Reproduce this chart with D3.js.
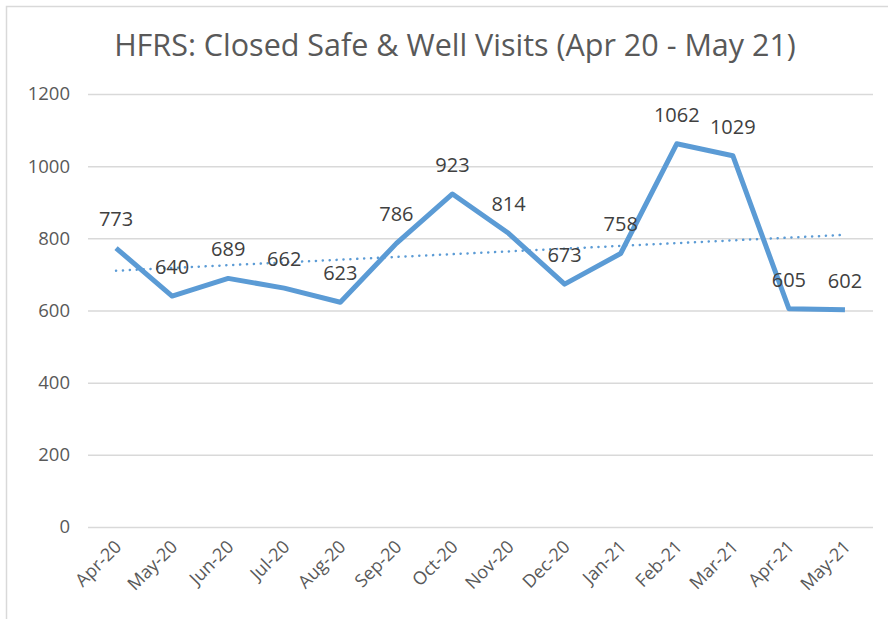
<!DOCTYPE html>
<html>
<head>
<meta charset="utf-8">
<script src="https://cdn.jsdelivr.net/npm/d3@7"></script>
<style>
  body { margin: 0; background: #fff; }
  svg, svg text { font-family: "Open Sans", sans-serif; }
  svg { display: block; }
</style>
</head>
<body>
<div id="chart"></div>
<script>
// chart data
var months = ["Apr-20", "May-20", "Jun-20", "Jul-20", "Aug-20", "Sep-20", "Oct-20",
    "Nov-20", "Dec-20", "Jan-21", "Feb-21", "Mar-21", "Apr-21", "May-21"];
var visits = [773, 640, 689, 662, 623, 786, 923, 814, 673, 758, 1062, 1029, 605, 602];
var yTicks = [0, 200, 400, 600, 800, 1000, 1200];
var title = "HFRS: Closed Safe & Well Visits (Apr 20 - May 21)";

var width = 888, height = 619;
var margin = {top: 94, right: 15, bottom: 92, left: 88};

var svg = d3.select("#chart").append("svg")
    .attr("width", width)
    .attr("height", height);

// outer chart frame (only top and left edges are visible)
svg.append("rect")
    .attr("x", 6.5).attr("y", 6.5)
    .attr("width", width + 20).attr("height", height + 20)
    .attr("fill", "none")
    .attr("stroke", "#d9d9d9")
    .attr("stroke-width", 1.5);

var x = d3.scalePoint()
    .domain(months)
    .range([margin.left, width - margin.right])
    .padding(0.5);

var y = d3.scaleLinear()
    .domain([0, 1200])
    .range([height - margin.bottom, margin.top]);

// title
svg.append("text")
    .attr("x", 455)
    .attr("y", 56)
    .attr("text-anchor", "middle")
    .attr("fill", "#595959")
    .style("font-size", "30.5px")
    .text(title);

// gridlines + y labels
var yAxis = svg.append("g")
    .attr("transform", "translate(" + margin.left + ",0)")
    .call(d3.axisLeft(y).tickValues(yTicks)
        .tickSize(-(width - margin.left - margin.right))
        .tickPadding(18)
        .tickFormat(d3.format("d")));
yAxis.attr("font-family", null).attr("font-size", null);
yAxis.select(".domain").remove();
yAxis.selectAll(".tick line").attr("stroke", "#d9d9d9").attr("stroke-width", 1.5);
yAxis.selectAll(".tick text")
    .attr("fill", "#595959")
    .style("font-size", "18.5px");

// x labels, rotated
var xAxis = svg.append("g")
    .attr("transform", "translate(0," + (height - margin.bottom) + ")")
    .call(d3.axisBottom(x).tickSize(0));
xAxis.attr("font-family", null).attr("font-size", null);
xAxis.select(".domain").remove();
xAxis.selectAll(".tick text")
    .attr("fill", "#595959")
    .style("font-size", "18px")
    .attr("text-anchor", "end")
    .attr("dy", null)
    .attr("y", 0)
    .attr("transform", "translate(6,21) rotate(-45)");

// linear trendline (least squares over the series)
var n = visits.length;
var mx = d3.mean(visits, function (d, i) { return i; });
var my = d3.mean(visits);
var sxy = d3.sum(visits, function (d, i) { return (i - mx) * (d - my); });
var sxx = d3.sum(visits, function (d, i) { return (i - mx) * (i - mx); });
var slope = sxy / sxx, intercept = my - slope * mx;

svg.append("line")
    .attr("x1", x(months[0]))
    .attr("y1", y(intercept))
    .attr("x2", x(months[n - 1]))
    .attr("y2", y(intercept + slope * (n - 1)))
    .attr("stroke", "#5b9bd5")
    .attr("stroke-width", 2.5)
    .attr("stroke-linecap", "round")
    .attr("stroke-dasharray", "0.1 6.8");

// main series line
var line = d3.line()
    .x(function (d, i) { return x(months[i]); })
    .y(function (d) { return y(d); });

svg.append("path")
    .datum(visits)
    .attr("fill", "none")
    .attr("stroke", "#5b9bd5")
    .attr("stroke-width", 5)
    .attr("stroke-linejoin", "round")
    .attr("d", line);

// data labels above each point
svg.selectAll(".label")
    .data(visits)
    .enter().append("text")
    .attr("class", "label")
    .attr("x", function (d, i) { return x(months[i]); })
    .attr("y", function (d) { return y(d) - 22; })
    .attr("text-anchor", "middle")
    .attr("fill", "#404040")
    .style("font-size", "20px")
    .text(function (d) { return d; });
</script>
</body>
</html>
